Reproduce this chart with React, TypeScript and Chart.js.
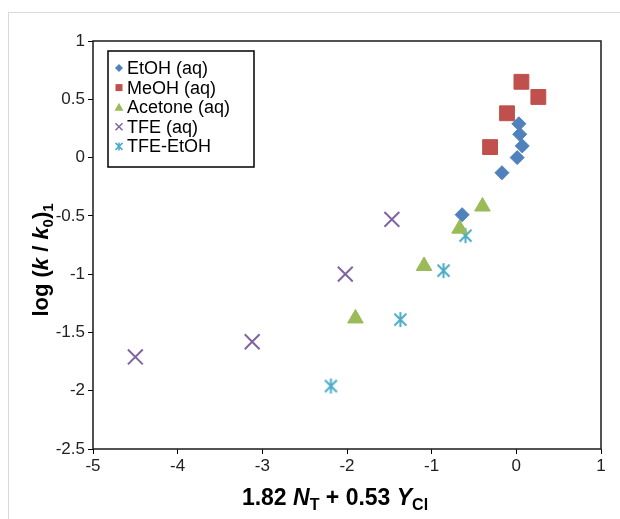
import React, { useEffect, useRef } from 'react';
import { Chart, registerables } from 'chart.js';

Chart.register(...registerables);

const FONT = '"Liberation Sans", Arial, Helvetica, sans-serif';

// ---- data ----
const etohX = [0.03, 0.04, 0.07, 0.01, -0.17, -0.64];
const etohY = [0.29, 0.2, 0.1, 0.0, -0.13, -0.49];
const meohX = [0.06, 0.26, -0.11, -0.31];
const meohY = [0.65, 0.52, 0.38, 0.09];
const acetoneX = [-0.4, -0.67, -1.09, -1.9];
const acetoneY = [-0.42, -0.61, -0.93, -1.38];
const tfeX = [-1.47, -2.02, -3.12, -4.5];
const tfeY = [-0.53, -1.0, -1.58, -1.71];
const tfeEtohX = [-0.6, -0.86, -1.37, -2.19];
const tfeEtohY = [-0.67, -0.97, -1.39, -1.96];

const seriesNames = ['EtOH (aq)', 'MeOH (aq)', 'Acetone (aq)', 'TFE (aq)', 'TFE-EtOH'];
const seriesColors = ['#4F81BD', '#C0504D', '#9BBB59', '#8064A2', '#4BACC6'];

const xMin = -5, xMax = 1, xStep = 1;
const yMin = -2.5, yMax = 1, yStep = 0.5;

function zip(xs: number[], ys: number[]) {
  return xs.map((x, i) => ({ x, y: ys[i] }));
}

function makeAsterisk(color: string, size: number, lw: number) {
  const c = document.createElement('canvas');
  c.width = size;
  c.height = size;
  const g = c.getContext('2d')!;
  const h = size / 2;
  const r = h - 1;
  g.strokeStyle = color;
  g.lineWidth = lw;
  g.beginPath();
  g.moveTo(h, h - r); g.lineTo(h, h + r);
  g.moveTo(h - r * 0.8, h - r * 0.8); g.lineTo(h + r * 0.8, h + r * 0.8);
  g.moveTo(h + r * 0.8, h - r * 0.8); g.lineTo(h - r * 0.8, h + r * 0.8);
  g.stroke();
  return c;
}

type Part = { t: string; f: string; dy?: number };

function drawRich(ctx: CanvasRenderingContext2D, parts: Part[], cx: number, y: number) {
  let total = 0;
  for (const p of parts) { ctx.font = p.f; total += ctx.measureText(p.t).width; }
  let x = cx - total / 2;
  ctx.textAlign = 'left';
  ctx.textBaseline = 'alphabetic';
  for (const p of parts) {
    ctx.font = p.f;
    ctx.fillText(p.t, x, y + (p.dy || 0));
    x += ctx.measureText(p.t).width;
  }
}

function drawLegendMarker(ctx: CanvasRenderingContext2D, i: number, x: number, y: number) {
  const col = seriesColors[i];
  ctx.save();
  ctx.fillStyle = col;
  ctx.strokeStyle = col;
  ctx.lineWidth = 1.5;
  ctx.beginPath();
  if (i === 0) {
    ctx.moveTo(x, y - 4); ctx.lineTo(x + 4, y); ctx.lineTo(x, y + 4); ctx.lineTo(x - 4, y); ctx.closePath(); ctx.fill();
  } else if (i === 1) {
    ctx.fillRect(x - 3.5, y - 3.5, 7, 7);
  } else if (i === 2) {
    ctx.moveTo(x, y - 4.5); ctx.lineTo(x + 4.5, y + 3.5); ctx.lineTo(x - 4.5, y + 3.5); ctx.closePath(); ctx.fill();
  } else if (i === 3) {
    ctx.moveTo(x - 3.5, y - 3.5); ctx.lineTo(x + 3.5, y + 3.5);
    ctx.moveTo(x + 3.5, y - 3.5); ctx.lineTo(x - 3.5, y + 3.5); ctx.stroke();
  } else {
    ctx.moveTo(x, y - 4); ctx.lineTo(x, y + 4);
    ctx.moveTo(x - 3.5, y - 3.5); ctx.lineTo(x + 3.5, y + 3.5);
    ctx.moveTo(x + 3.5, y - 3.5); ctx.lineTo(x - 3.5, y + 3.5); ctx.stroke();
  }
  ctx.restore();
}

const decorPlugin = {
  id: 'decor',
  beforeDraw(chart: any) {
    const ctx = chart.ctx as CanvasRenderingContext2D;
    ctx.save();
    ctx.fillStyle = '#fff';
    ctx.fillRect(0, 0, chart.width, chart.height);
    ctx.strokeStyle = '#D9D9D9';
    ctx.lineWidth = 1;
    ctx.strokeRect(8.5, 12.5, chart.width + 20, chart.height + 20);
    ctx.restore();
  },
  afterDraw(chart: any) {
    const ctx = chart.ctx as CanvasRenderingContext2D;
    const a = chart.chartArea;
    ctx.save();
    // plot frame
    ctx.strokeStyle = '#1a1a1a';
    ctx.lineWidth = 1.5;
    ctx.strokeRect(a.left, a.top, a.right - a.left, a.bottom - a.top);

    // legend
    const lx = 108, ly = 51, lw = 146, lh = 116;
    ctx.fillStyle = '#fff';
    ctx.fillRect(lx, ly, lw, lh);
    ctx.strokeStyle = '#000';
    ctx.lineWidth = 1.5;
    ctx.strokeRect(lx, ly, lw, lh);
    ctx.font = `18px ${FONT}`;
    ctx.fillStyle = '#000';
    ctx.textBaseline = 'middle';
    ctx.textAlign = 'left';
    seriesNames.forEach((n, i) => {
      const yy = 68 + i * 19.6;
      drawLegendMarker(ctx, i, 119, yy);
      ctx.fillStyle = '#000';
      ctx.fillText(n, 127, yy + 1);
    });

    // axis titles
    ctx.fillStyle = '#000';
    const B = `bold 23px ${FONT}`;
    const BI = `italic bold 23px ${FONT}`;
    const S = `bold 16px ${FONT}`;
    drawRich(ctx, [
      { t: '1.82 ', f: B },
      { t: 'N', f: BI },
      { t: 'T', f: S, dy: 5 },
      { t: ' + 0.53 ', f: B },
      { t: 'Y', f: BI },
      { t: 'Cl', f: S, dy: 5 },
    ], 335, 505);

    const B2 = `bold 22px ${FONT}`;
    const BI2 = `italic bold 22px ${FONT}`;
    const S2 = `bold 15px ${FONT}`;
    ctx.save();
    ctx.translate(48, 260);
    ctx.rotate(-Math.PI / 2);
    drawRich(ctx, [
      { t: 'log (', f: B2 },
      { t: 'k', f: BI2 },
      { t: ' / ', f: B2 },
      { t: 'k', f: BI2 },
      { t: '0', f: S2, dy: 5 },
      { t: ')', f: B2 },
      { t: '1', f: S2, dy: 5 },
    ], 0, 0);
    ctx.restore();
    ctx.restore();
  },
};

const fmt = (v: any) => String(Math.round(Number(v) * 100) / 100);

export default function App() {
  const ref = useRef<HTMLCanvasElement>(null);
  useEffect(() => {
    if (!ref.current) return;
    const star = makeAsterisk(seriesColors[4], 17, 2);
    const chart = new Chart(ref.current, {
      type: 'scatter',
      data: {
        datasets: [
          { label: seriesNames[0], data: zip(etohX, etohY), pointStyle: 'rectRot', pointRadius: 7, backgroundColor: seriesColors[0], borderColor: seriesColors[0], borderWidth: 1 },
          { label: seriesNames[1], data: zip(meohX, meohY), pointStyle: 'rect', pointRadius: 10.5, backgroundColor: seriesColors[1], borderColor: seriesColors[1], borderWidth: 1 },
          { label: seriesNames[2], data: zip(acetoneX, acetoneY), pointStyle: 'triangle', pointRadius: 9, backgroundColor: seriesColors[2], borderColor: seriesColors[2], borderWidth: 1 },
          { label: seriesNames[3], data: zip(tfeX, tfeY), pointStyle: 'crossRot', pointRadius: 10.5, backgroundColor: seriesColors[3], borderColor: seriesColors[3], borderWidth: 2 },
          { label: seriesNames[4], data: zip(tfeEtohX, tfeEtohY), pointStyle: star as any, pointRadius: 8, backgroundColor: seriesColors[4], borderColor: seriesColors[4], borderWidth: 2 },
        ] as any,
      },
      options: {
        animation: false,
        responsive: false,
        devicePixelRatio: 1,
        layout: { padding: { left: 0, top: 41, right: 19, bottom: 0 } },
        plugins: { legend: { display: false }, tooltip: { enabled: false } },
        scales: {
          x: {
            type: 'linear',
            min: xMin, max: xMax,
            afterFit: (s: any) => { s.height = 70; },
            ticks: { stepSize: xStep, font: { family: FONT, size: 17 }, color: '#222', padding: 2, maxRotation: 0, callback: fmt },
            grid: { display: true, drawOnChartArea: false, drawTicks: true, tickLength: 5, color: '#000', lineWidth: 1 },
            border: { display: false },
          },
          y: {
            type: 'linear',
            min: yMin, max: yMax,
            afterFit: (s: any) => { s.width = 93; },
            ticks: { stepSize: yStep, font: { family: FONT, size: 17 }, color: '#222', padding: 3, callback: fmt },
            grid: { display: true, drawOnChartArea: false, drawTicks: true, tickLength: 5, color: '#000', lineWidth: 1 },
            border: { display: false },
          },
        },
      } as any,
      plugins: [decorPlugin],
    });
    return () => chart.destroy();
  }, []);
  return (
    <div style={{ position: 'absolute', left: 0, top: 0, width: 620, height: 519 }}>
      <canvas ref={ref} width={620} height={519} style={{ width: 620, height: 519, display: 'block' }} />
    </div>
  );
}
